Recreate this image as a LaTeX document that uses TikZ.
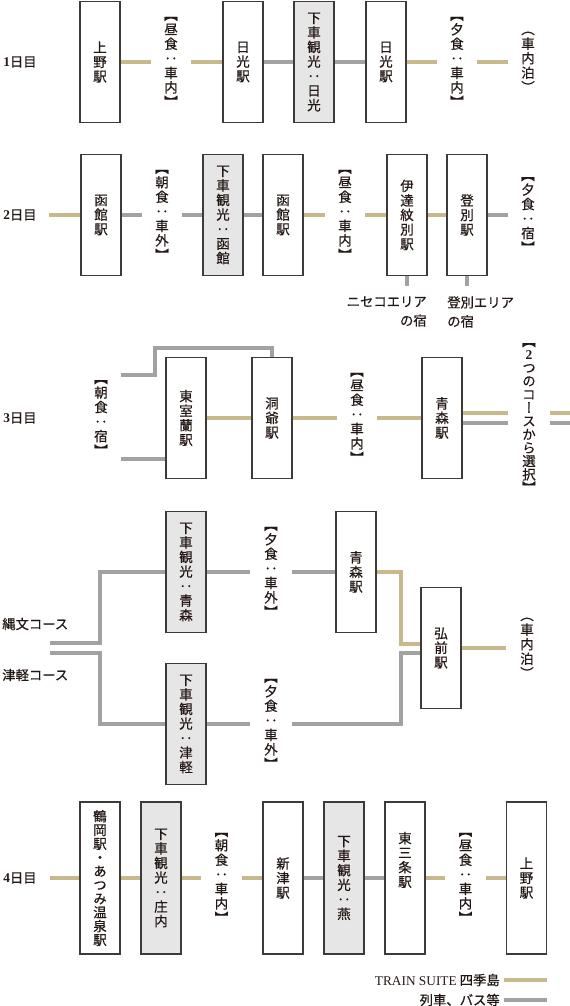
\documentclass[tikz,border=0pt]{standalone}
\usepackage{fontspec}
\setmainfont{Liberation Serif}
\newfontfamily\cjk[RawFeature={embolden=0.5}]{Noto Sans CJK JP}
\newfontfamily\cjkv[RawFeature=+vert,RawFeature={embolden=0.5}]{Noto Sans CJK JP}
\definecolor{goldl}{HTML}{C8B98C}
\definecolor{grayl}{HTML}{A2A2A2}
\definecolor{boxc}{HTML}{3E3A39}
\definecolor{boxg}{HTML}{E6E6E6}
\definecolor{txt}{HTML}{231815}
\newcommand\vtxt{\cjkv\fontsize{10.1}{10.9}\selectfont}
\newcommand\vtxtt{\cjkv\fontsize{10.1}{10.3}\selectfont}
\newcommand\vtxtk{\cjkv\fontsize{10.1}{10.0}\selectfont}
\newcommand\htxt{\cjk\fontsize{10}{14.25}\selectfont}
\newcommand\lat[1]{{\rmfamily\bfseries #1}}
\begin{document}
\begin{tikzpicture}[x=0.75pt,y=-0.75pt,
  stn/.style={draw=boxc, line width=1.1pt, fill=white, minimum width=30pt,
    minimum height=90.75pt, inner sep=0pt, align=center, font=\vtxt, text=txt},
  gstn/.style={stn, fill=boxg},
  tall/.style={minimum height=114pt},
  lbl/.style={minimum width=30pt, inner sep=0pt, align=center, font=\vtxt, text=txt},
  vtext/.style={inner sep=0pt, align=center, font=\vtxt, text=txt},
  day/.style={anchor=west, inner sep=0pt, font=\htxt, text=txt},
  note/.style={inner sep=0pt, font=\htxt, text=txt},
  gl/.style={draw=goldl, line width=3pt},
  gr/.style={draw=grayl, line width=3pt}]
\useasboundingbox (0,0) rectangle (570,1006);

% ---------- Day 1 ----------
\node[day] (d1) at (3,62) {\lat{1}日目};
\node[stn] (a1) at (100,62) {上\\野\\駅};
\node[lbl] (m1) at (171,62) {【\\昼\\食\\：\\車\\内\\】};
\node[stn] (b1) at (243,62) {日\\光\\駅};
\node[gstn] (c1) at (314,62) {下\\車\\観\\光\\：\\日\\光};
\node[stn] (e1) at (386,62) {日\\光\\駅};
\node[lbl] (n1) at (457,62) {【\\夕\\食\\：\\車\\内\\】};
\node[lbl] (p1) at (528,62) {（\\車\\内\\泊\\）};
\draw[gl] (a1.east) -- (m1.west);
\draw[gl] (m1.east) -- (b1.west);
\draw[gr] (b1.east) -- (c1.west);
\draw[gr] (c1.east) -- (e1.west);
\draw[gl] (e1.east) -- (n1.west);
\draw[gl] (n1.east) -- (p1.west);

% ---------- Day 2 ----------
\node[day] (d2) at (3,215) {\lat{2}日目};
\coordinate (s2) at (49,215);
\node[stn] (a2) at (101,215) {函\\館\\駅};
\node[lbl] (m2) at (162,215) {【\\朝\\食\\：\\車\\外\\】};
\node[gstn] (c2) at (223,215) {下\\車\\観\\光\\：\\函\\館};
\node[stn] (b2) at (283,215) {函\\館\\駅};
\node[lbl] (n2) at (345,215) {【\\昼\\食\\：\\車\\内\\】};
\node[stn] (e2) at (407,215) {伊\\達\\紋\\別\\駅};
\node[stn] (f2) at (467,215) {登\\別\\駅};
\node[lbl] (q2) at (528,215) {【\\夕\\食\\：\\宿\\】};
\draw[gl] (s2) -- (a2.west);
\draw[gr] (a2.east) -- (m2.west);
\draw[gr] (m2.east) -- (c2.west);
\draw[gr] (c2.east) -- (b2.west);
\draw[gl] (b2.east) -- (n2.west);
\draw[gl] (n2.east) -- (e2.west);
\draw[gl] (e2.east) -- (f2.west);
\draw[gr] (f2.east) -- (q2.west);
\coordinate (e2s) at (407,286);
\coordinate (f2s) at (467,286);
\draw[gr] (e2.south) -- (e2s);
\draw[gr] (f2.south) -- (f2s);
\node[note, anchor=north east, align=right] (t1) at (427,296) {ニセコエリア\\の宿};
\node[note, anchor=north west, align=left] (t2) at (447,296) {登別エリア\\の宿};

% ---------- Day 3 ----------
\node[day] (d3) at (3,418) {\lat{3}日目};
\node[lbl] (m3) at (101,418) {【\\朝\\食\\：\\宿\\】};
\node[stn] (a3) at (186,418) {東\\室\\蘭\\駅};
\node[stn] (b3) at (272,418) {洞\\爺\\駅};
\node[lbl] (n3) at (357,418) {【\\昼\\食\\：\\車\\内\\】};
\node[stn] (c3) at (442,418) {青\\森\\駅};
\node[lbl, minimum width=31.5pt, font=\vtxtk] (q3) at (529,418) {【\\\lat{2}\\つ\\の\\コ\\ー\\ス\\か\\ら\\選\\択\\】};
\coordinate (u3) at (121,375);
\coordinate (l3) at (121,459);
\draw[gr] (u3) -| (155,348) -| (b3.north);
\draw[gr] (l3) -- (l3 -| a3.west);
\draw[gl] (a3.east) -- (b3.west);
\draw[gl] (b3.east) -- (n3.west);
\draw[gl] (n3.east) -- (c3.west);
\coordinate (r3g) at (570,413);
\coordinate (r3r) at (570,423);
\draw[gl] (c3.east |- r3g) -- (q3.west |- r3g);
\draw[gr] (c3.east |- r3r) -- (q3.west |- r3r);
\draw[gl] (q3.east |- r3g) -- (r3g);
\draw[gr] (q3.east |- r3r) -- (r3r);

% ---------- Day 3: two courses ----------
\node[note, anchor=west] (jt) at (2,624) {縄文コース};
\node[note, anchor=west] (tt) at (2,675) {津軽コース};
\coordinate (j0) at (50,643);
\coordinate (t0) at (50,653);
\node[gstn] (a4) at (186,572) {下\\車\\観\\光\\：\\青\\森};
\node[lbl, minimum width=31.5pt] (m4) at (271,572) {【\\夕\\食\\：\\車\\外\\】};
\node[stn] (b4) at (356,572) {青\\森\\駅};
\node[stn] (c4) at (441,648) {弘\\前\\駅};
\node[gstn] (d4) at (186,724) {下\\車\\観\\光\\：\\津\\軽};
\node[lbl, minimum width=31.5pt] (n4) at (271,724) {【\\夕\\食\\：\\車\\外\\】};
\node[lbl, minimum width=31.5pt] (p4) at (527,648) {（\\車\\内\\泊\\）};
\coordinate (cg) at (401,644);
\coordinate (cr) at (401,653);
\draw[gr] (j0) -| (100,572) -- (a4.west);
\draw[gr] (a4.east) -- (m4.west);
\draw[gr] (m4.east) -- (b4.west);
\draw[gl] (b4.east) -| (cg) -- (c4.west |- cg);
\draw[gr] (t0) -| (100,724) -- (d4.west);
\draw[gr] (d4.east) -- (n4.west);
\draw[gr] (n4.east) -| (cr) -- (c4.west |- cr);
\draw[gl] (c4.east) -- (p4.west);

% ---------- Day 4 ----------
\node[day] (d5) at (3,878) {\lat{4}日目};
\coordinate (s5) at (50,878);
\node[stn, tall, font=\vtxtt] (a5) at (100,878) {鶴\\岡\\駅\\・\\あ\\つ\\み\\温\\泉\\駅};
\node[gstn, tall] (b5) at (161,878) {下\\車\\観\\光\\：\\庄\\内};
\node[lbl] (m5) at (221.5,878) {【\\朝\\食\\：\\車\\内\\】};
\node[stn, tall] (c5) at (283,878) {新\\津\\駅};
\node[gstn, tall] (e5) at (344,878) {下\\車\\観\\光\\：\\燕};
\node[stn, tall] (f5) at (405,878) {};
\node[vtext] (f5t) at (405,860) {東\\三\\条\\駅};
\node[lbl] (n5) at (465.5,878) {【\\昼\\食\\：\\車\\内\\】};
\node[stn, tall] (g5) at (526.5,878) {上\\野\\駅};
\draw[gl] (s5) -- (a5.west);
\draw[gl] (a5.east) -- (b5.west);
\draw[gl] (b5.east) -- (m5.west);
\draw[gl] (m5.east) -- (c5.west);
\draw[gr] (c5.east) -- (e5.west);
\draw[gr] (e5.east) -- (f5.west);
\draw[gl] (f5.east) -- (n5.west);
\draw[gl] (n5.east) -- (g5.west);

% ---------- Legend ----------
\node[note, anchor=east] (lg1) at (500,980) {{\rmfamily TRAIN SUITE} 四季島};
\node[note, anchor=east] (lg2) at (500,1000) {列車、バス等};
\coordinate (lg1a) at (504,980);
\coordinate (lg1b) at (547,980);
\coordinate (lg2a) at (504,1000);
\coordinate (lg2b) at (547,1000);
\draw[gl] (lg1a) -- (lg1b);
\draw[gr] (lg2a) -- (lg2b);
\end{tikzpicture}
\end{document}
